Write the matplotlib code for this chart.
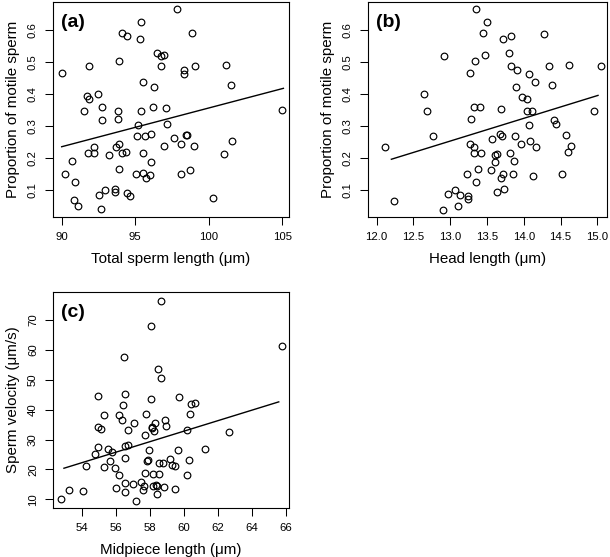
import matplotlib
matplotlib.use("Agg")
import matplotlib.pyplot as plt

plt.rcParams['font.family'] = ['Liberation Sans', 'DejaVu Sans']

# ---------------- data ----------------
# (a) Total sperm length vs proportion motile
a_x = [90.0, 90.23, 90.70, 90.88, 90.84, 91.13, 91.5, 91.75, 91.86, 91.88, 91.81, 92.2, 92.2,
       92.47, 92.72, 92.72, 92.52, 92.68, 92.95, 93.2, 93.6, 93.65, 93.7, 93.9, 93.85, 93.85,
       93.88, 93.92, 94.13, 94.44, 94.08, 94.35, 94.47, 94.67, 95.08, 95.12, 95.2, 95.37, 95.35,
       95.4, 95.53, 95.53, 95.56, 95.69, 95.74, 95.99, 96.1, 96.1, 96.2, 96.26, 96.48, 96.78,
       96.96, 96.78, 96.98, 97.12, 97.19, 97.62, 97.82, 98.14, 98.12, 98.3, 98.3, 98.44, 98.53,
       98.71, 98.89, 99.05, 99.03, 100.3, 101.02, 101.16, 101.52, 101.59, 105.01]
a_y = [0.467, 0.151, 0.191, 0.127, 0.069, 0.052, 0.346, 0.393, 0.384, 0.487, 0.217, 0.236, 0.215,
       0.400, 0.360, 0.320, 0.085, 0.041, 0.102, 0.210, 0.104, 0.096, 0.236, 0.243, 0.348, 0.322,
       0.168, 0.504, 0.590, 0.582, 0.215, 0.220, 0.091, 0.084, 0.152, 0.271, 0.304, 0.347, 0.572,
       0.625, 0.439, 0.217, 0.153, 0.271, 0.139, 0.147, 0.276, 0.189, 0.360, 0.423, 0.528, 0.519,
       0.522, 0.488, 0.237, 0.356, 0.307, 0.262, 0.664, 0.243, 0.152, 0.475, 0.462, 0.274, 0.274,
       0.165, 0.589, 0.488, 0.237, 0.075, 0.213, 0.491, 0.427, 0.255, 0.350]
a_fit_x = [90.0, 105.08]
a_fit_y = [0.236, 0.418]

# (b) Head length vs proportion motile
b_x = [12.12, 12.24, 12.64, 12.68, 12.77, 12.90, 12.91, 12.97, 13.07, 13.10, 13.13, 13.24, 13.24,
       13.23, 13.27, 13.27, 13.28, 13.32, 13.32, 13.33, 13.34, 13.35, 13.35, 13.38, 13.41, 13.42,
       13.44, 13.47, 13.50, 13.56, 13.57, 13.61, 13.61, 13.64, 13.63, 13.68, 13.69, 13.69, 13.71,
       13.72, 13.72, 13.73, 13.80, 13.81, 13.82, 13.82, 13.85, 13.87, 13.88, 13.89, 13.91, 13.96,
       13.98, 14.04, 14.05, 14.07, 14.07, 14.08, 14.11, 14.12, 14.15, 14.16, 14.28, 14.34, 14.38,
       14.41, 14.44, 14.52, 14.58, 14.60, 14.62, 14.64, 14.96, 15.05]
b_y = [0.236, 0.068, 0.399, 0.346, 0.270, 0.040, 0.519, 0.090, 0.102, 0.051, 0.085, 0.082, 0.074,
       0.151, 0.467, 0.243, 0.322, 0.360, 0.236, 0.217, 0.503, 0.664, 0.127, 0.168, 0.360, 0.215,
       0.589, 0.521, 0.625, 0.165, 0.261, 0.189, 0.210, 0.213, 0.094, 0.275, 0.139, 0.355, 0.271,
       0.572, 0.152, 0.103, 0.527, 0.217, 0.582, 0.487, 0.151, 0.191, 0.271, 0.423, 0.474, 0.243,
       0.392, 0.384, 0.346, 0.462, 0.303, 0.255, 0.348, 0.146, 0.438, 0.236, 0.588, 0.487, 0.427,
       0.320, 0.306, 0.152, 0.274, 0.219, 0.490, 0.237, 0.348, 0.487]
b_fit_x = [12.20, 15.01]
b_fit_y = [0.197, 0.396]

# (c) Midpiece length vs sperm velocity
c_x = [52.81, 53.24, 54.06, 54.23, 54.76, 54.98, 54.98, 54.98, 55.14, 55.31, 55.33, 55.57, 55.64,
       55.78, 55.98, 56.00, 56.17, 56.19, 56.35, 56.41, 56.47, 56.52, 56.52, 56.54, 56.54, 56.52,
       56.70, 56.72, 56.99, 57.05, 57.19, 57.46, 57.62, 57.66, 57.70, 57.74, 57.78, 57.82, 57.91,
       57.97, 58.09, 58.09, 58.11, 58.15, 58.19, 58.19, 58.25, 58.30, 58.38, 58.40, 58.42, 58.50,
       58.54, 58.56, 58.64, 58.66, 58.79, 58.85, 58.87, 58.93, 59.19, 59.32, 59.48, 59.50, 59.64,
       59.72, 60.16, 60.20, 60.32, 60.34, 60.44, 60.65, 61.22, 62.67, 65.78]
c_y = [10.0, 13.1, 12.9, 21.0, 25.3, 44.4, 34.3, 27.6, 33.5, 38.1, 20.7, 26.8, 22.9,
       25.8, 20.5, 13.9, 38.1, 18.1, 36.5, 41.5, 57.5, 45.1, 27.9, 23.8, 15.6, 12.3,
       28.3, 33.1, 15.1, 35.6, 9.4, 15.8, 13.2, 14.6, 31.4, 18.8, 38.7, 22.9, 23.0,
       26.5, 68.0, 43.6, 34.0, 34.1, 14.6, 18.6, 33.0, 35.6, 14.8, 11.8, 14.6, 53.5,
       22.3, 18.6, 50.6, 76.3, 22.3, 14.1, 36.5, 34.6, 23.4, 21.4, 21.3, 13.5, 26.5,
       44.3, 18.1, 33.1, 23.0, 38.7, 41.8, 42.1, 26.8, 32.4, 61.4]
c_fit_x = [52.96, 65.57]
c_fit_y = [20.4, 42.6]

a_xticks = [90, 95, 100, 105]
a_xticklabels = ['90', '95', '100', '105']
b_xticks = [12.0, 12.5, 13.0, 13.5, 14.0, 14.5, 15.0]
b_xticklabels = ['12.0', '12.5', '13.0', '13.5', '14.0', '14.5', '15.0']
prop_yticks = [0.1, 0.2, 0.3, 0.4, 0.5, 0.6]
prop_yticklabels = ['0.1', '0.2', '0.3', '0.4', '0.5', '0.6']
c_xticks = [54, 56, 58, 60, 62, 64, 66]
c_xticklabels = ['54', '56', '58', '60', '62', '64', '66']
c_yticks = [10, 20, 30, 40, 50, 60, 70]
c_yticklabels = ['10', '20', '30', '40', '50', '60', '70']

# ---------------- figure ----------------
W, H = 610, 557
fig = plt.figure(figsize=(W / 100, H / 100), dpi=100)


def add_ax(l, t, r, b):
    return fig.add_axes([l / W, 1 - b / H, (r - l) / W, (b - t) / H])


TICK_FS = 8.2
LAB_FS = 10.9


def style(ax, x, y, fx, fy, xt, xtl, yt, ytl, xlim, ylim, xlabel, ylabel, tag, box):
    l, t, r, b = box
    ax.plot(x, y, linestyle='none', marker='o', markersize=4.8, markerfacecolor='none',
            markeredgecolor='black', markeredgewidth=0.85)
    ax.plot(fx, fy, color='black', linewidth=1.0)
    ax.set_xlim(*xlim)
    ax.set_ylim(*ylim)
    ax.set_xticks(xt)
    ax.set_xticklabels(xtl)
    ax.set_yticks(yt)
    ax.set_yticklabels(ytl, rotation=90, va='center')
    ax.tick_params(direction='out', length=5.8, width=0.75, labelsize=TICK_FS, pad=4.8)
    for s in ax.spines.values():
        s.set_linewidth(0.8)
    ax.text(0.035, 0.905, tag, transform=ax.transAxes, fontsize=14, fontweight='bold',
            ha='left', va='center')
    cx = (l + r) / 2
    fig.text(cx / W, 1 - (b + 41.6) / H, xlabel, fontsize=LAB_FS, ha='center', va='center')
    cy = (t + b) / 2
    fig.text((l - 39.3) / W, 1 - cy / H, ylabel, fontsize=LAB_FS, ha='center', va='center',
             rotation=90)


box_a = (52.7, 1.7, 289.0, 217.0)
box_b = (367.7, 1.7, 606.7, 217.0)
box_c = (52.7, 291.7, 289.3, 508.3)

ax_a = add_ax(*box_a)
style(ax_a, a_x, a_y, a_fit_x, a_fit_y, a_xticks, a_xticklabels, prop_yticks, prop_yticklabels,
      (89.39, 105.46), (0.017, 0.688), 'Total sperm length (\u03bcm)',
      'Proportion of motile sperm', '(a)', box_a)

ax_b = add_ax(*box_b)
style(ax_b, b_x, b_y, b_fit_x, b_fit_y, b_xticks, b_xticklabels, prop_yticks, prop_yticklabels,
      (11.878, 15.128), (0.017, 0.688), 'Head length (\u03bcm)',
      'Proportion of motile sperm', '(b)', box_b)

ax_c = add_ax(*box_c)
style(ax_c, c_x, c_y, c_fit_x, c_fit_y, c_xticks, c_xticklabels, c_yticks, c_yticklabels,
      (52.30, 66.19), (7.0, 79.45), 'Midpiece length (\u03bcm)',
      'Sperm velocity (\u03bcm/s)', '(c)', box_c)

fig.savefig('out.png', dpi=100)
